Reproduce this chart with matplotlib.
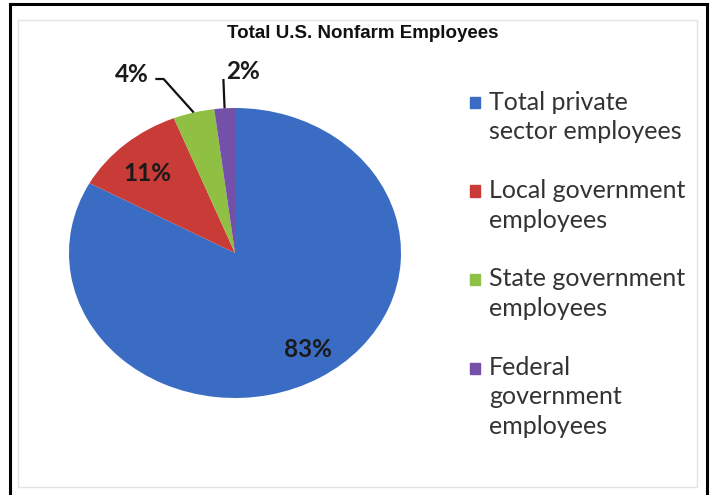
import matplotlib
matplotlib.use('Agg')
import matplotlib.pyplot as plt
from matplotlib.patches import Rectangle
from matplotlib.lines import Line2D
import numpy as np

# Employment shares (percent)
categories = ['Total private\nsector employees', 'Local government\nemployees',
              'State government\nemployees', 'Federal\ngovernment\nemployees']
shares = [83, 11, 4, 2]
colors = ['#3b6cc4', '#c93b37', '#8fc044', '#7550a8']

W, H = 715, 495
fig = plt.figure(figsize=(W / 100, H / 100), dpi=100)

# Pie axes sized to the (slightly stretched) pie ellipse
cx, cy, rx, ry = 235, 253, 166, 145
ax = fig.add_axes([(cx - rx) / W, (H - cy - ry) / H, 2 * rx / W, 2 * ry / H])
wedges, _ = ax.pie(shares, colors=colors, startangle=90, counterclock=False,
                   wedgeprops=dict(linewidth=0))
ax.set_aspect('auto')
ax.set_xlim(-1, 1)
ax.set_ylim(-1, 1)

pct_font = dict(family=['Lato', 'DejaVu Sans'], fontsize=17.5, fontweight='bold', color='#1a1a1a')

# Inner labels for the two big slices, with a small nudge each
nudges = [(0.05, 0.0), (-0.02, -0.03)]
for w, v, (dx, dy) in zip(wedges[:2], shares[:2], nudges):
    mid = np.deg2rad((w.theta1 + w.theta2) / 2)
    ax.text(0.77 * np.cos(mid) + dx, 0.77 * np.sin(mid) + dy,
            f'{v}%', ha='center', va='center', **pct_font)

# Outside labels with leader lines for the small slices
outside = [(2, (-0.62, 1.23), [(-0.43, 1.2), (-0.48, 1.2)]),
           (3, (0.05, 1.25), [(-0.07, 1.2)])]
for idx, txt_pos, pts in outside:
    w = wedges[idx]
    mid = np.deg2rad((w.theta1 + w.theta2) / 2)
    xs = [np.cos(mid)] + [p[0] for p in pts]
    ys = [np.sin(mid)] + [p[1] for p in pts]
    ax.plot(xs, ys, color='#111111', lw=1.6, clip_on=False, solid_capstyle='butt')
    ax.text(txt_pos[0], txt_pos[1], f'{shares[idx]}%', ha='center', va='center', **pct_font)

# Title
fig.text(363 / W, 1 - 33 / H, 'Total U.S. Nonfarm Employees', ha='center', va='center',
         family=['Liberation Sans', 'DejaVu Sans'],
         fontweight='bold', fontsize=13.5, color='#111111')

# Legend drawn by hand so the swatch sits on the first line
line_h = 29.5
y = 102
for label, color in zip(categories, colors):
    fig.add_artist(Rectangle((470 / W, 1 - (y + 6) / H), 10 / W, 11 / H,
                             transform=fig.transFigure, color=color))
    for k, part in enumerate(label.split('\n')):
        fig.text(489 / W, 1 - (y + k * line_h) / H, part, ha='left', va='center',
                 family=['Lato', 'DejaVu Sans'], fontsize=18, color='#333333')
    y += (label.count('\n') + 2) * line_h

# Faint chart-area border and the outer black frame
fig.add_artist(Rectangle((18 / W, 1 - 487 / H), 679 / W, 467 / H, transform=fig.transFigure,
                         fill=False, edgecolor='#e4e4e4', lw=1))
frame = dict(color='black', lw=2.2, transform=fig.transFigure)
fig.add_artist(Line2D([10 / W, 10 / W], [0, 1 - 4 / H], **frame))
fig.add_artist(Line2D([10 / W, 707 / W], [1 - 4 / H, 1 - 4 / H], **frame))
fig.add_artist(Line2D([707 / W, 707 / W], [0, 1 - 4 / H], **frame))

fig.savefig('out.png', dpi=100)
